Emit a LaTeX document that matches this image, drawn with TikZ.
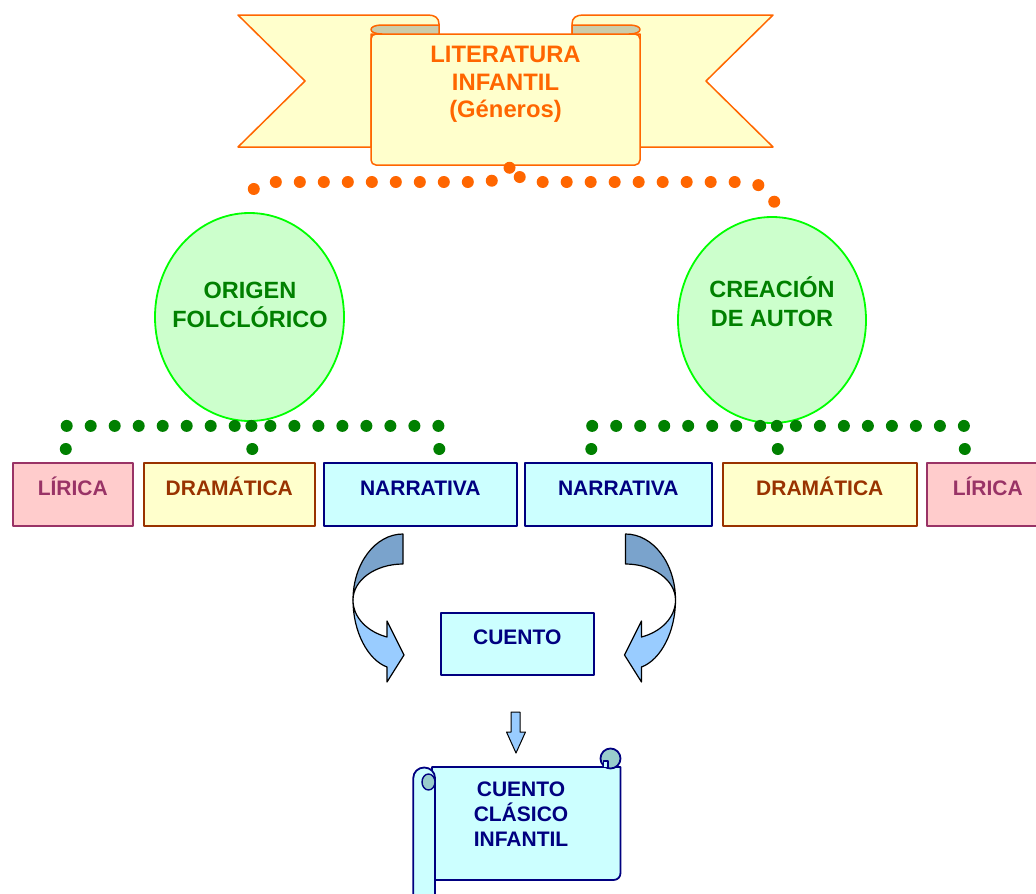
\documentclass[tikz,border=0pt]{standalone}
\usepackage{fontspec}
\setmainfont{Liberation Sans}
\usetikzlibrary{shapes.geometric}

\definecolor{orng}{HTML}{FF6600}
\definecolor{paleyel}{HTML}{FFFFCC}
\definecolor{foldgray}{HTML}{CCCCAA}
\definecolor{palegreen}{HTML}{CCFFCC}
\definecolor{limegreen}{HTML}{00FF00}
\definecolor{dkgreen}{HTML}{008000}
\definecolor{rosefill}{HTML}{FFCCCC}
\definecolor{plum}{HTML}{993366}
\definecolor{rust}{HTML}{993300}
\definecolor{palecyan}{HTML}{CCFFFF}
\definecolor{navyblue}{HTML}{000080}
\definecolor{arrowlight}{HTML}{99CCFF}
\definecolor{arrowdark}{RGB}{122,163,204}
\definecolor{curlfill}{HTML}{99CCCC}

\tikzset{
  banner/.style={draw=orng, fill=paleyel, line width=1.5},
  genbox/.style={draw, line width=1.6, anchor=north west, minimum height=63,
    inner xsep=0, inner ysep=0, text height=32.5, text depth=30.5,
    font=\bfseries\fontsize{21}{25}\selectfont},
  lirbox/.style={genbox, fill=rosefill, draw=plum, text=plum},
  drabox/.style={genbox, fill=paleyel, draw=rust, text=rust},
  narbox/.style={genbox, fill=palecyan, draw=navyblue, text=navyblue},
  oval/.style={ellipse, draw=limegreen, fill=palegreen, line width=1.8, inner sep=0},
  ovaltext/.style={text=dkgreen, align=center, inner sep=0,
    font=\bfseries\fontsize{23.5}{29}\selectfont},
  gdots/.style={draw=dkgreen, line width=12, line cap=round, dash pattern=on 0pt off 24pt},
  odots/.style={draw=orng, line width=12, line cap=round, dash pattern=on 0pt off 24pt},
  carrow/.style={draw=black, line width=1.2, line join=round},
  scroll/.style={draw=navyblue, fill=palecyan, line width=1.8},
}

\begin{document}
\begin{tikzpicture}[x=1pt, y=-1pt, line join=round]
\useasboundingbox (0,0) rectangle (1036,894);
\clip (0,0) rectangle (1036,894);
\fill[white] (0,0) rectangle (1036,894);

% ---- title ribbon: wings, front panel, folds ----
\draw[banner] (439,34) -- (439,24) .. controls (439,18) and (435,15) .. (428,15)
  -- (238,15) -- (305,81) -- (238,147) -- (371,147) -- (371,34) -- cycle;
\draw[banner] (572,34) -- (572,24) .. controls (572,18) and (576,15) .. (583,15)
  -- (773,15) -- (706,81) -- (773,147) -- (640,147) -- (640,34) -- cycle;
\node[banner, rounded corners=5, minimum width=269, minimum height=131, inner sep=0]
  (scrollbody) at (505.5,99.5) {};
\draw[banner, fill=foldgray] (439,34) -- (382,34) .. controls (375,34) and (371,32) .. (371,29.5)
  .. controls (371,27) and (375,25) .. (382,25) -- (439,25) -- cycle;
\draw[banner, fill=foldgray] (572,34) -- (629,34) .. controls (636,34) and (640,32) .. (640,29.5)
  .. controls (640,27) and (636,25) .. (629,25) -- (572,25) -- cycle;
\node[text=orng, align=center, inner sep=0, font=\bfseries\fontsize{23.8}{27.5}\selectfont]
  (titletext) at (505.5,84.5) {LITERATURA\\INFANTIL\\(Géneros)};

% ---- the two origins ----
\node[oval, minimum width=189, minimum height=208] (origen) at (249.5,317) {};
\node[ovaltext] (origentext) at (250,304.5) {ORIGEN\\FOLCLÓRICO};
\node[oval, minimum width=188, minimum height=206] (creacion) at (772,320) {};
\node[ovaltext] (creaciontext) at (772,301.5) {CREACIÓN\\DE AUTOR};

% ---- genre boxes ----
\node[lirbox, minimum width=120] (liricaL) at (12,462) {LÍRICA};
\node[drabox, minimum width=171] (dramaL) at (143,462) {DRAMÁTICA};
\node[narbox, minimum width=193] (narrL) at (323,462) {NARRATIVA};
\node[narbox, minimum width=187] (narrR) at (524,462) {NARRATIVA};
\node[drabox, minimum width=194] (dramaR) at (722,462) {DRAMÁTICA};
\node[lirbox, minimum width=122] (liricaR) at (926,462) {LÍRICA};

% ---- dotted links from the title ----
\draw[odots] ([xshift=4,yshift=-2]scrollbody.south) .. controls +(0,12) and +(22,0) .. (470,182)
  -- (275,182) .. controls +(-24,0) and +(0,-20) .. (origen.north);
\draw[odots, dash phase=12] ([xshift=11]scrollbody.south) .. controls +(0,14) and +(-22,0) .. (545,182)
  -- (735,182) .. controls +(30,0) and +(0,-25) .. ([xshift=4]creacion.north);

% ---- dotted links to the genres ----
\draw[gdots, dash phase=11] ([xshift=-7]liricaL.north) |- ([yshift=-4]origen.south);
\draw[gdots, dash phase=11] ([xshift=23]dramaL.north) |- ([yshift=-4]origen.south);
\draw[gdots, dash phase=11] ([xshift=19]narrL.north) |- ([yshift=-4]origen.south);
\draw[gdots, dash phase=11] ([xshift=-27]narrR.north) |- ([yshift=-2]creacion.south);
\draw[gdots, dash phase=11] ([xshift=-42]dramaR.north) |- ([yshift=-2]creacion.south);
\draw[gdots, dash phase=11] ([xshift=-23]liricaR.north) |- ([yshift=-2]creacion.south);

% ---- curved arrows towards the tale ----
\draw[carrow, fill=arrowdark] (403,534) .. controls (375.4,534) and (353,563.5) .. (353,600)
  .. controls (353,580.1) and (375.4,564) .. (403,564) -- cycle;
\draw[carrow, fill=arrowlight] (353,600) .. controls (353,632) and (368,660) .. (387,667)
  -- (387,682) -- (404,655) -- (387,621) -- (387,637)
  .. controls (368,632) and (353,618) .. (353,600) -- cycle;
\draw[carrow, fill=arrowdark] (625.5,534) .. controls (653.1,534) and (675.5,563.5) .. (675.5,600)
  .. controls (675.5,580.1) and (653.1,564) .. (625.5,564) -- cycle;
\draw[carrow, fill=arrowlight] (675.5,600) .. controls (675.5,632) and (660.5,660) .. (641.5,667)
  -- (641.5,682) -- (624.5,655) -- (641.5,621) -- (641.5,637)
  .. controls (660.5,632) and (675.5,618) .. (675.5,600) -- cycle;

\node[narbox, minimum width=153, minimum height=62, text height=32, text depth=30]
  (cuento) at (440,612) {CUENTO};

% ---- small down arrow ----
\draw[carrow, fill=arrowlight, line width=1] (511,712) -- (520,712) -- (520,732) -- (525.5,732)
  -- (516,753) -- (506.5,732) -- (511,732) -- cycle;

% ---- vertical scroll ----
\draw[scroll] (432,767) -- (620.5,767) -- (620.5,873) .. controls (620.5,877) and (617.5,880) .. (613.5,880)
  -- (432,880) -- cycle;
% top roll
\draw[scroll, fill=curlfill] (610.5,758.5) circle[radius=10pt];
\draw[scroll, line width=1.4] (603.5,767) -- (603.5,761) -- (608,761) -- (608,767);
% left roll
\draw[scroll] (435,778) -- (435,900) -- (413.3,900) -- (413.3,778)
  .. controls (413.3,772) and (418.2,767.5) .. (424.2,767.5)
  .. controls (430.2,767.5) and (435,772) .. (435,778);
\draw[scroll, fill=curlfill, line width=1.4] (428.5,782) ellipse[x radius=6.5pt, y radius=8pt];
\node[text=navyblue, align=center, inner sep=0, font=\bfseries\fontsize{21}{25}\selectfont]
  (clasico) at (521,814) {CUENTO\\CLÁSICO\\INFANTIL};
\end{tikzpicture}
\end{document}
